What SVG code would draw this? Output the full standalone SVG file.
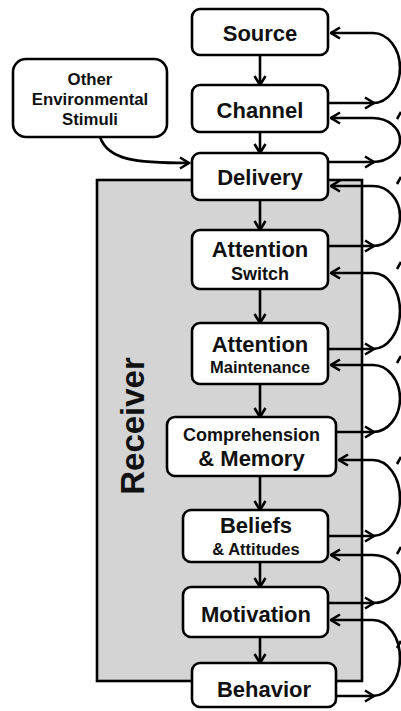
<svg xmlns="http://www.w3.org/2000/svg" width="401" height="711" viewBox="0 0 401 711">
<defs>
<marker id="ah" viewBox="0 0 12 14" refX="10.5" refY="7" markerWidth="12" markerHeight="14" markerUnits="userSpaceOnUse" orient="auto">
<path d="M1.5,1.5 L10.5,7 L1.5,12.5" fill="none" stroke="#000" stroke-width="2.6" stroke-linejoin="miter"/>
</marker>
<style>
.box{fill:#fff;stroke:#000;stroke-width:2.6}
.t{font-family:"Liberation Sans",Arial,sans-serif;font-weight:bold;fill:#111;text-anchor:middle}
.big{font-size:22px}
.sm{font-size:16.8px}
.ln{fill:none;stroke:#000;stroke-width:2.6}
.arr{fill:none;stroke:#000;stroke-width:2.6;marker-end:url(#ah)}
</style>
</defs>
<rect width="401" height="711" fill="#fff"/>
<g id="receiver">
<rect x="97" y="180" width="265" height="501" fill="#d4d4d4" stroke="#000" stroke-width="2.6"/>
<text class="t" transform="translate(144,426) rotate(-90)" style="font-size:33px">Receiver</text>
</g>
<g id="connectors">
<path class="arr" d="M260,55 V85"/>
<path class="arr" d="M260,132 V153"/>
<path class="arr" d="M260,200 V230"/>
<path class="arr" d="M260,289 V323"/>
<path class="arr" d="M260,384 V417"/>
<path class="arr" d="M260,476 V510"/>
<path class="arr" d="M260,562 V587"/>
<path class="arr" d="M260,637 V663"/>
<path class="arr" d="M100,137 C108,160 135,163 189,163"/>
<path class="arr" d="M328,103 H374"/>
<path class="arr" d="M373,103 A27,35 0 0 0 373,33 H331"/>
<path class="arr" d="M328,162 H374"/>
<path class="arr" d="M373,162 A27,22 0 0 0 373,118 H331"/>
<path class="arr" d="M328,246 H374"/>
<path class="arr" d="M373,246 A27,30 0 0 0 373,186 H331"/>
<path class="arr" d="M328,349 H374"/>
<path class="arr" d="M373,349 A27,38 0 0 0 373,273 H331"/>
<path class="arr" d="M336,432 H374"/>
<path class="arr" d="M373,432 A27,33.5 0 0 0 373,365 H331"/>
<path class="arr" d="M328,536 H374"/>
<path class="arr" d="M373,536 A27,38 0 0 0 373,460 H339"/>
<path class="arr" d="M328,603 H374"/>
<path class="arr" d="M373,603 A27,24 0 0 0 373,555 H331"/>
<path class="arr" d="M336,696 H374"/>
<path class="arr" d="M373,696 A27,38 0 0 0 373,620 H331"/>
<path class="ln" d="M397,119 L401,112 M397,184 L401,177 M397,269 L401,262 M397,363 L401,356 M397,464 L401,457 M397,554 L401,547 M397,648 L401,641"/>
</g>
<g id="other">
<rect class="box" x="13" y="59" width="154" height="78" rx="13"/>
<text class="t sm" x="90" y="85">Other</text>
<text class="t sm" x="90" y="105">Environmental</text>
<text class="t sm" x="90" y="125">Stimuli</text>
</g>
<g id="source">
<rect class="box" x="192" y="9" width="136" height="46" rx="8"/>
<text class="t big" x="260" y="41">Source</text>
</g>
<g id="channel">
<rect class="box" x="192" y="85" width="136" height="47" rx="8"/>
<text class="t big" x="260" y="118">Channel</text>
</g>
<g id="delivery">
<rect class="box" x="192" y="153" width="136" height="47" rx="8"/>
<text class="t big" x="260" y="185">Delivery</text>
</g>
<g id="attention-switch">
<rect class="box" x="192" y="230" width="136" height="59" rx="8"/>
<text class="t big" x="260" y="257">Attention</text>
<text class="t" style="font-size:18px" x="260" y="280">Switch</text>
</g>
<g id="attention-maintenance">
<rect class="box" x="192" y="323" width="136" height="61" rx="8"/>
<text class="t big" x="260" y="352">Attention</text>
<text class="t" style="font-size:16.5px" x="260" y="373">Maintenance</text>
</g>
<g id="comprehension">
<rect class="box" x="167" y="417" width="169" height="59" rx="8"/>
<text class="t" style="font-size:18px" x="251.5" y="441">Comprehension</text>
<text class="t big" x="251.5" y="466">&amp; Memory</text>
</g>
<g id="beliefs">
<rect class="box" x="183" y="510" width="145" height="52" rx="8"/>
<text class="t big" x="256" y="533">Beliefs</text>
<text class="t" style="font-size:16.5px" x="256" y="555">&amp; Attitudes</text>
</g>
<g id="motivation">
<rect class="box" x="183" y="587" width="145" height="50" rx="8"/>
<text class="t big" x="256" y="622">Motivation</text>
</g>
<g id="behavior">
<rect class="box" x="192" y="663" width="144" height="44" rx="8"/>
<text class="t big" x="264" y="697">Behavior</text>
</g>
</svg>
